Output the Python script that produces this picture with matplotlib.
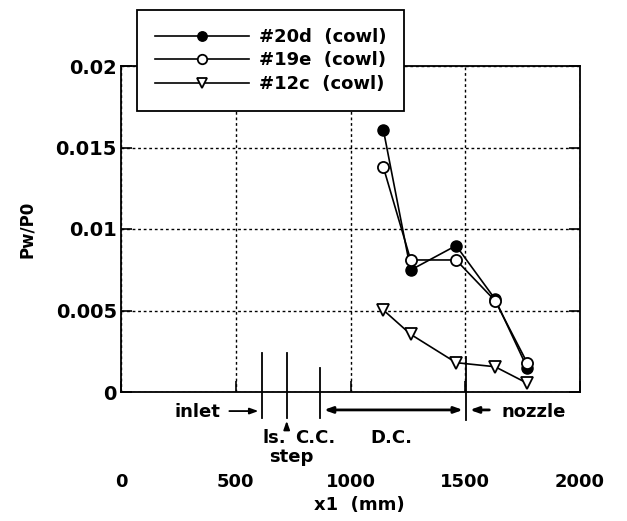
import matplotlib
matplotlib.use("Agg")
import matplotlib.pyplot as plt

# ---- data ----
x_pos = [1143, 1262, 1460, 1630, 1771]
pw_20d = [0.0161, 0.00748, 0.00898, 0.0057, 0.00145]
pw_19e = [0.0138, 0.0081, 0.0081, 0.0056, 0.00176]
pw_12c = [0.00503, 0.00354, 0.0018, 0.00155, 0.00053]
series_labels = ["#20d  (cowl)", "#19e  (cowl)", "#12c  (cowl)"]
x_ticks = [0, 500, 1000, 1500, 2000]
y_ticks = [0, 0.005, 0.01, 0.015, 0.02]
y_tick_labels = ["0", "0.005", "0.01", "0.015", "0.02"]

plt.rcParams['font.family'] = ['DejaVu Sans']
plt.rcParams['font.weight'] = 'bold'
plt.rcParams['axes.labelweight'] = 'bold'
FS = 13

fig = plt.figure(figsize=(6.27, 5.21), dpi=100)
ax = fig.add_axes([121/627, 1-392/521, (580-121)/627, (392-66)/521])

ax.plot(x_pos, pw_20d, '-o', color='black', mfc='black', mec='black', lw=1.2, ms=8, label=series_labels[0], zorder=4)
ax.plot(x_pos, pw_19e, '-o', color='black', mfc='white', mec='black', lw=1.2, ms=8, mew=1.3, label=series_labels[1], zorder=5)
ax.plot(x_pos, pw_12c, '-v', color='black', mfc='white', mec='black', lw=1.2, ms=9, mew=1.3, label=series_labels[2], zorder=4)

ax.set_xlim(0, 2000)
ax.set_ylim(0, 0.02)
ax.set_xticks(x_ticks)
ax.set_yticks(y_ticks)
ax.set_yticklabels(y_tick_labels)
ax.grid(True, linestyle=(0, (2, 2)), color='black', linewidth=1.0)
ax.tick_params(axis='both', direction='in', length=8, width=1.2,
               top=False, right=True)
ax.tick_params(axis='x', pad=58, labelsize=13)
ax.tick_params(axis='y', pad=3, labelsize=14)
for s in ax.spines.values():
    s.set_linewidth(1.3)

ax.text(1037, -0.00695, "x1  (mm)", ha='center', va='center', fontsize=FS, clip_on=False)
ax.set_ylabel("Pw/P0", fontsize=12, fontweight='bold', labelpad=14)

# ---- annotations below axis ----
kw = dict(color='black', lw=1.3, clip_on=False)
ax.plot([615, 615], [0.0024, -0.0016], **kw)
ax.plot([722, 722], [0.0024, -0.0016], **kw)
ax.plot([869, 869], [0.00147, -0.0016], **kw)
ax.plot([1505, 1505], [0.00215, -0.0017], **kw)

arrow_kw = dict(arrowstyle='-|>,head_length=0.5,head_width=0.18', color='black', lw=1.3)
ax.annotate("", xy=(611, -0.00117), xytext=(460, -0.00117), arrowprops=arrow_kw, annotation_clip=False)
ax.annotate("", xy=(722, -0.0016), xytext=(722, -0.0024), arrowprops=arrow_kw, annotation_clip=False)
ax.annotate("", xy=(1502, -0.0011), xytext=(872, -0.0011),
            arrowprops=dict(arrowstyle='<|-|>,head_length=0.5,head_width=0.18', color='black', lw=2.0),
            annotation_clip=False)
ax.annotate("", xy=(1508, -0.0011), xytext=(1617, -0.0011),
            arrowprops=dict(arrowstyle='-|>,head_length=0.5,head_width=0.18', color='black', lw=2.0),
            annotation_clip=False)

tk = dict(ha='center', va='center', fontsize=FS, clip_on=False)
ax.text(335, -0.0012, "inlet", **tk)
ax.text(1800, -0.0012, "nozzle", **tk)
ax.text(670, -0.0028, "ls.", **tk)
ax.text(848, -0.0028, "C.C.", **tk)
ax.text(740, -0.0040, "step", **tk)
ax.text(1180, -0.0028, "D.C.", **tk)

leg = ax.legend(loc='upper left', bbox_to_anchor=(137/627, 1-10/521),
                bbox_transform=fig.transFigure, borderaxespad=0, fancybox=False,
                edgecolor='black', framealpha=1, fontsize=FS, handlelength=5.2,
                labelspacing=0.3, borderpad=1.0, handletextpad=0.55, markerscale=0.85)
leg.get_frame().set_linewidth(1.3)

fig.savefig("out.png", dpi=100)
